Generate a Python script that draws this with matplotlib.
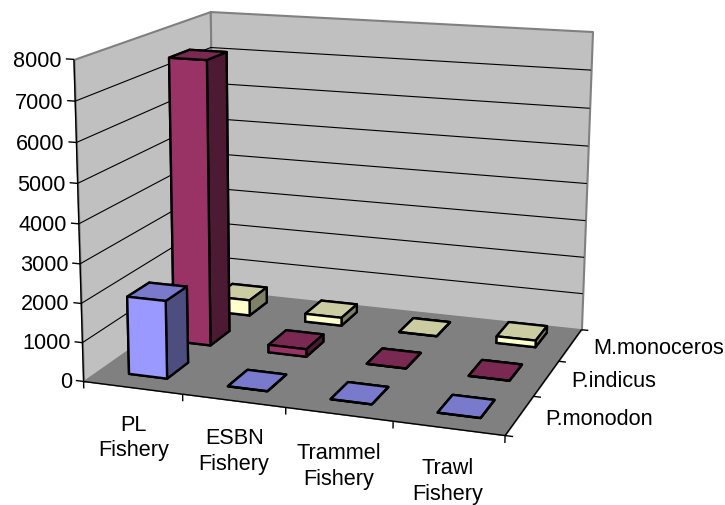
import matplotlib
matplotlib.use("Agg")
import matplotlib.pyplot as plt
import numpy as np
from mpl_toolkits.mplot3d.art3d import Line3DCollection, Poly3DCollection

categories = ["PL\nFishery", "ESBN\nFishery", "Trammel\nFishery", "Trawl\nFishery"]
series_names = ["P.monodon", "P.indicus", "M.monoceros"]
p_monodon = [2000, 0, 0, 0]
p_indicus = [7500, 200, 0, 0]
m_monoceros = [430, 220, 0, 180]
value_ticks = [0, 1000, 2000, 3000, 4000, 5000, 6000, 7000, 8000]

XMAX, YMAX, ZMAX = len(categories), len(series_names), value_ticks[-1]
W, H = 725, 505

plt.rcParams["font.family"] = ["Liberation Sans", "DejaVu Sans"]
FS = 15.6

# box corners (unit coords) and where they sit in the picture, for the camera fit
box = np.array([(0, 0, 0), (1, 0, 0), (1, 1, 0), (0, 1, 0), (0, 0, 1), (0, 1, 1), (1, 1, 1)], float)
pix = np.array([(85, 380), (505, 437), (582, 328), (212, 292), (72.5, 59.5), (212, 11), (592, 32)], float)
pix[:, 1] = H - pix[:, 1]


def fit_camera(box, pix):
    rows, rhs = [], []
    for (x, y, z), (u, v) in zip(box, pix):
        rows.append([x, y, z, 1, 0, 0, 0, 0, -u * x, -u * y, -u * z])
        rows.append([0, 0, 0, 0, x, y, z, 1, -v * x, -v * y, -v * z])
        rhs += [u, v]
    sol = np.linalg.lstsq(np.array(rows), np.array(rhs), rcond=None)[0]
    return np.append(sol, 1).reshape(3, 4)


camera = fit_camera(box, pix)
to_unit = np.diag([1 / XMAX, 1 / YMAX, 1 / ZMAX, 1])

fig = plt.figure(figsize=(W / 100, H / 100), dpi=100)
ax = fig.add_axes((0, 0, 1, 1), projection="3d", computed_zorder=False)
ax.apply_aspect = lambda position=None: None


def get_proj():
    # excel's oblique view, the stock elev/azim camera can't reproduce it
    p = ax.transData.inverted().get_matrix() @ camera
    return np.vstack([p[0], p[1], [-0.3, 1, -0.3, 0], p[2]]) @ to_unit


def label(x, y, z, text, **kwargs):
    u, v, w = camera @ to_unit @ (x, y, z, 1)
    ax.text2D(u / w / W, v / w / H, text, transform=fig.transFigure, fontsize=FS, va="center", **kwargs)


ax.get_proj = get_proj
ax.set_axis_off()

# Walls and floor
wall_kw = dict(edgecolor="#808080", linewidth=1.5, zorder=1)
ax.add_collection3d(Poly3DCollection(
    [[(0, 0, 0), (0, YMAX, 0), (0, YMAX, ZMAX), (0, 0, ZMAX)]], facecolor="#C0C0C0", **wall_kw))
ax.add_collection3d(Poly3DCollection(
    [[(0, YMAX, 0), (XMAX, YMAX, 0), (XMAX, YMAX, ZMAX), (0, YMAX, ZMAX)]], facecolor="#C0C0C0", **wall_kw))
ax.add_collection3d(Poly3DCollection(
    [[(0, 0, 0), (XMAX, 0, 0), (XMAX, YMAX, 0), (0, YMAX, 0)]], facecolor="#808080", edgecolor="#808080",
    linewidth=0.5, zorder=1.5))

# Gridlines
grid = [[(0, 0, v), (0, YMAX, v), (XMAX, YMAX, v)] for v in value_ticks[1:-1]]
ax.add_collection3d(Line3DCollection(grid, colors="black", linewidths=0.8, zorder=2))

# Axis lines and ticks
axis_segs = [[(0, 0, 0), (0, 0, ZMAX)], [(0, 0, 0), (XMAX, 0, 0)], [(XMAX, 0, 0), (XMAX, YMAX, 0)]]
axis_segs += [[(0, 0, v), (-0.08, 0, v)] for v in value_ticks]
axis_segs += [[(i, 0, 0), (i, 0, -180)] for i in range(XMAX + 1)]
axis_segs += [[(XMAX, j, 0), (XMAX + 0.07, j, 0)] for j in range(YMAX + 1)]
ax.add_collection3d(Line3DCollection(axis_segs, colors="black", linewidths=1.0, zorder=2.5))

for v in value_ticks:
    label(-0.12, 0, v - 70, str(v), ha="right")
for i, name in enumerate(categories):
    label(i + 0.5, 0, -1300, name, ha="center", linespacing=1.3)
for j, name in enumerate(series_names):
    label(XMAX + 0.23, j + 0.5, -20, name, ha="left")

# Bars, back row first so the nearer ones paint over
series = [p_monodon, p_indicus, m_monoceros]
front_colors = ["#9999FF", "#993366", "#FFFFCC"]
top_colors = ["#7A7ACC", "#7A2952", "#CCCCA3"]
side_colors = ["#4D4D80", "#4D1A33", "#808066"]
bar_w, bar_d = 0.39, 0.47
row_shift = 0.06  # bars sit a little behind the row centre in the original
order = 3
for j in reversed(range(YMAX)):
    for i in range(XMAX):
        top, front, side = top_colors[j], front_colors[j], side_colors[j]
        ax.bar3d(
            i + 0.5 - bar_w / 2, j + 0.5 + row_shift - bar_d / 2, 0, bar_w, bar_d, series[j][i],
            color=[top, top, front, front, side, side],
            shade=False, edgecolor="black", linewidth=1.7, zorder=order,
        )
        order += 1

ax.set_xlim(0, XMAX)
ax.set_ylim(0, YMAX)
ax.set_zlim(0, ZMAX)

fig.savefig("out.png", dpi=100)
